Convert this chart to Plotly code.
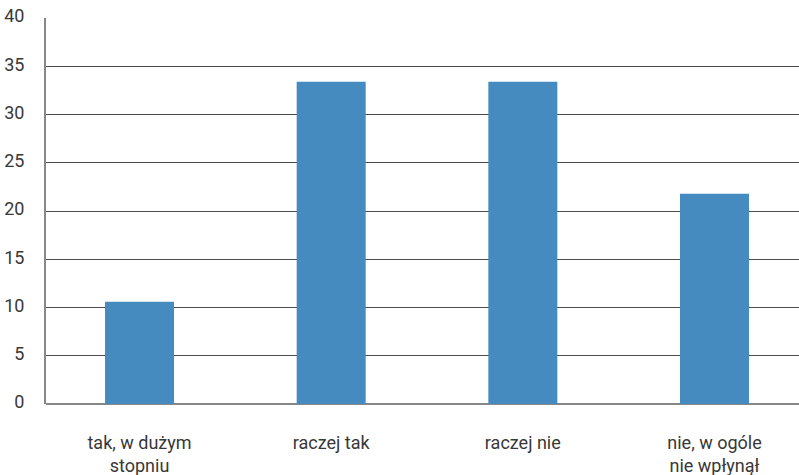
import plotly.graph_objects as go

categories = ["tak, w dużym<br>stopniu", "raczej tak", "raczej nie", "nie, w ogóle<br>nie wpłynął"]
values = [10.6, 33.4, 33.4, 21.8]
y_ticks = [0, 5, 10, 15, 20, 25, 30, 35, 40]

FONT = "Roboto, sans-serif"

fig = go.Figure(go.Bar(
    x=list(range(len(categories))),
    y=values,
    width=0.36,
    marker=dict(color="#458bbf", line=dict(width=0)),
))

fig.update_layout(
    width=799, height=475,
    margin=dict(l=46, r=0, t=18, b=71, autoexpand=False),
    paper_bgcolor="white", plot_bgcolor="white",
    font=dict(family=FONT, size=18, color="#383838"),
    showlegend=False,
    xaxis=dict(
        range=[-0.488, 3.441],
        tickmode="array",
        tickvals=list(range(len(categories))),
        ticktext=categories,
        showgrid=False,
        zeroline=False,
        showline=False,
        ticks="",
        automargin=False,
        ticklabelstandoff=26,
        tickfont=dict(size=18, color="#383838"),
    ),
    yaxis=dict(
        range=[0, 40],
        tickvals=y_ticks,
        showgrid=True,
        gridcolor="#4a4a4a",
        gridwidth=1,
        zeroline=True,
        zerolinecolor="#888888",
        zerolinewidth=2,
        showline=True,
        linecolor="#888888",
        linewidth=2,
        ticks="",
        automargin=False,
        ticklabelstandoff=16,
        ticklabelshift=-2,
        tickfont=dict(size=18, color="#383838"),
    ),
)

fig.write_html(
    "out.html",
    config={"displayModeBar": False},
    post_script="document.body.style.margin='0';document.body.style.padding='0';",
)
